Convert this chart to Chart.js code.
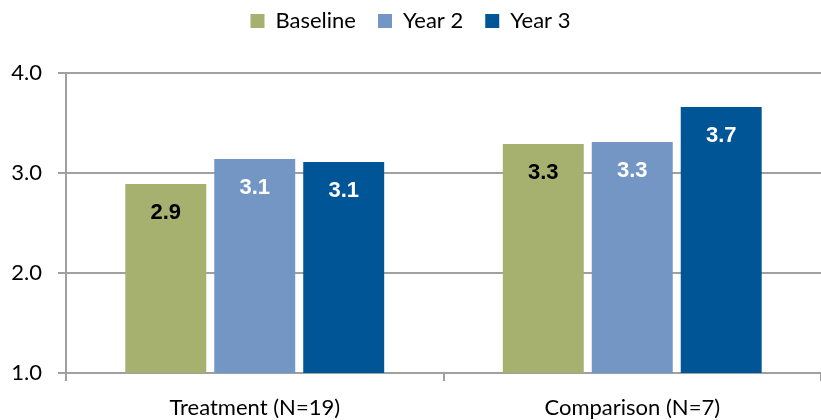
<!DOCTYPE html>
<html>
<head>
<meta charset="utf-8">
<script src="https://cdn.jsdelivr.net/npm/chart.js@4"></script>
<style>
  body { margin: 0; background: #fff; }
  #wrap { width: 821px; height: 420px; }
</style>
</head>
<body>
<div id="wrap"><canvas id="chart"></canvas></div>
<script>
const categories = ['Treatment (N=19)', 'Comparison (N=7)']
const baseline = [2.89, 3.29]
const year2 = [3.14, 3.31]
const year3 = [3.11, 3.66]
const yTicks = [1, 2, 3, 4]

// bar value labels, drawn inside the top of each bar
const barLabels = {
  id: 'barLabels',
  afterDatasetsDraw (chart) {
    const ctx = chart.ctx
    ctx.save()
    ctx.font = 'bold 22px "Liberation Sans", Arial, sans-serif'
    ctx.textAlign = 'center'
    ctx.textBaseline = 'middle'
    chart.data.datasets.forEach((ds, i) => {
      chart.getDatasetMeta(i).data.forEach((bar, j) => {
        ctx.fillStyle = ds.labelColor
        ctx.fillText(ds.data[j].toFixed(1), bar.x, bar.y + 29)
      })
    })
    ctx.restore()
  }
}

// extra room under the legend
const legendGap = {
  id: 'legendGap',
  beforeInit (chart) {
    const fit = chart.legend.fit
    chart.legend.fit = function () {
      fit.bind(chart.legend)()
      this.height += 31
    }
  }
}

const font = { family: 'Lato, "Open Sans", sans-serif', size: 22 }

new Chart(document.getElementById('chart'), {
  type: 'bar',
  data: {
    labels: categories,
    datasets: [
      { label: 'Baseline', data: baseline, backgroundColor: '#a6b06f', labelColor: '#000' },
      { label: 'Year 2', data: year2, backgroundColor: '#7396c4', labelColor: '#fff' },
      { label: 'Year 3', data: year3, backgroundColor: '#005596', labelColor: '#fff' }
    ]
  },
  options: {
    responsive: true,
    maintainAspectRatio: false,
    animation: false,
    layout: { padding: { top: -12, left: 0, right: 0, bottom: 0 } },
    datasets: { bar: { categoryPercentage: 0.707, barPercentage: 0.91 } },
    plugins: {
      legend: {
        position: 'top',
        labels: { boxWidth: 14, boxHeight: 14, font, color: '#000', padding: 22 }
      },
      tooltip: { enabled: false }
    },
    scales: {
      y: {
        min: 1,
        max: 4,
        afterBuildTicks: axis => { axis.ticks = yTicks.map(v => ({ value: v })) },
        afterFit: axis => { axis.width = 66 },
        ticks: { font, color: '#000', padding: 16, callback: v => v.toFixed(1) },
        grid: { color: '#a0a0a0', lineWidth: 2, tickLength: 8 },
        border: { color: '#a0a0a0', width: 2 }
      },
      x: {
        afterFit: axis => { axis.height = 47 },
        ticks: { font, color: '#000', padding: 14 },
        grid: { drawOnChartArea: false, color: '#a0a0a0', lineWidth: 2, tickLength: 8 },
        border: { color: '#a0a0a0', width: 2 }
      }
    }
  },
  plugins: [barLabels, legendGap]
})
</script>
</body>
</html>
